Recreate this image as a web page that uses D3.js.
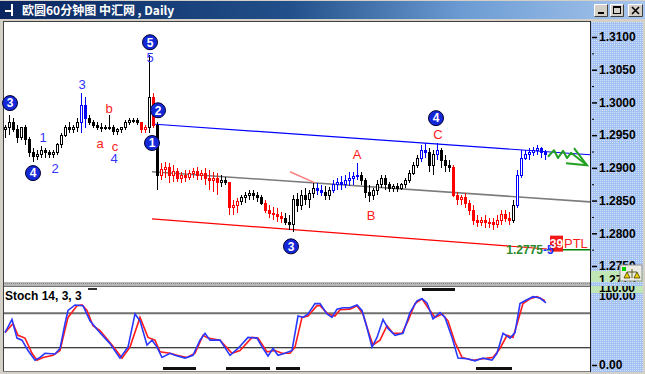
<!DOCTYPE html>
<html><head><meta charset="utf-8">
<script src="https://cdn.jsdelivr.net/npm/d3@7"></script>
<style>
html,body{margin:0;padding:0;background:#d4d0c8;overflow:hidden;}
svg{display:block;font-family:"Liberation Sans",Arial,sans-serif;}
</style></head><body>
<svg id="c" width="645" height="374"></svg>
<script>
// ---------------- DATA ----------------
const titleText = "欧圆60分钟图 中汇网 , Daily";
const stochTitle = "Stoch 14, 3, 3";

// bar index 0..135 (each bar one 60-minute period)
const opens = [
1.2958,1.2961,1.2970,1.2958,1.2946,1.2961,1.2943,1.2924,1.2917,1.2920,
1.2927,1.2923,1.2920,1.2924,1.2935,1.2950,1.2961,1.2958,1.2962,1.2970,
1.2996,1.2976,1.2970,1.2965,1.2962,1.2961,1.2962,1.2961,1.2955,1.2958,
1.2961,1.2970,1.2973,1.2973,1.2969,1.2958,1.2962,1.3008,1.2965,1.2889,
1.2897,1.2900,1.2889,1.2894,1.2884,1.2889,1.2886,1.2892,1.2894,1.2889,
1.2891,1.2884,1.2881,1.2884,1.2878,1.2881,1.2877,1.2839,1.2843,1.2848,
1.2854,1.2857,1.2861,1.2858,1.2854,1.2846,1.2835,1.2831,1.2828,1.2825,
1.2823,1.2817,1.2813,1.2851,1.2843,1.2858,1.2851,1.2861,1.2869,1.2866,
1.2863,1.2858,1.2866,1.2874,1.2877,1.2874,1.2881,1.2884,1.2887,1.2889,
1.2881,1.2863,1.2857,1.2866,1.2874,1.2884,1.2874,1.2869,1.2872,1.2869,
1.2874,1.2881,1.2892,1.2904,1.2915,1.2927,1.2923,1.2904,1.2920,1.2927,
1.2912,1.2904,1.2900,1.2858,1.2851,1.2854,1.2846,1.2835,1.2820,1.2817,
1.2820,1.2816,1.2817,1.2813,1.2820,1.2828,1.2823,1.2820,1.2843,1.2889,
1.2915,1.2920,1.2924,1.2927,1.2930,1.2923];
const highs = [
1.2965,1.2981,1.2976,1.2965,1.2962,1.2965,1.2947,1.2930,1.2927,1.2933,
1.2930,1.2927,1.2927,1.2938,1.2953,1.2965,1.2970,1.2965,1.2976,1.3014,
1.3008,1.2981,1.2973,1.2970,1.2969,1.2965,1.2981,1.2965,1.2961,1.2962,
1.2973,1.2976,1.2976,1.2976,1.2970,1.2965,1.3072,1.3014,1.2970,1.2907,
1.2909,1.2907,1.2904,1.2900,1.2894,1.2897,1.2897,1.2900,1.2901,1.2897,
1.2900,1.2897,1.2894,1.2892,1.2889,1.2886,1.2878,1.2851,1.2854,1.2858,
1.2863,1.2866,1.2866,1.2863,1.2858,1.2851,1.2843,1.2840,1.2839,1.2832,
1.2831,1.2828,1.2858,1.2861,1.2866,1.2869,1.2866,1.2877,1.2877,1.2874,
1.2872,1.2871,1.2881,1.2884,1.2887,1.2889,1.2894,1.2894,1.2907,1.2894,
1.2884,1.2874,1.2869,1.2881,1.2889,1.2889,1.2878,1.2875,1.2877,1.2877,
1.2884,1.2897,1.2909,1.2920,1.2935,1.2938,1.2930,1.2927,1.2938,1.2930,
1.2920,1.2912,1.2904,1.2863,1.2858,1.2861,1.2851,1.2843,1.2828,1.2825,
1.2828,1.2823,1.2823,1.2828,1.2835,1.2835,1.2832,1.2851,1.2897,1.2927,
1.2927,1.2930,1.2932,1.2935,1.2932,1.2927];
const lows = [
1.2946,1.2950,1.2955,1.2938,1.2943,1.2935,1.2917,1.2909,1.2912,1.2915,
1.2915,1.2915,1.2915,1.2920,1.2930,1.2947,1.2953,1.2953,1.2955,1.2953,
1.2961,1.2965,1.2961,1.2958,1.2955,1.2958,1.2958,1.2950,1.2950,1.2953,
1.2958,1.2965,1.2969,1.2965,1.2953,1.2953,1.2953,1.2961,1.2866,1.2881,
1.2884,1.2877,1.2878,1.2878,1.2877,1.2878,1.2881,1.2884,1.2881,1.2881,
1.2874,1.2866,1.2863,1.2858,1.2871,1.2874,1.2828,1.2828,1.2831,1.2843,
1.2846,1.2851,1.2851,1.2848,1.2843,1.2831,1.2823,1.2820,1.2817,1.2816,
1.2813,1.2805,1.2802,1.2832,1.2835,1.2843,1.2839,1.2854,1.2858,1.2857,
1.2851,1.2851,1.2861,1.2866,1.2866,1.2869,1.2872,1.2874,1.2881,1.2874,
1.2854,1.2848,1.2851,1.2858,1.2869,1.2866,1.2863,1.2863,1.2863,1.2866,
1.2869,1.2877,1.2889,1.2900,1.2909,1.2915,1.2894,1.2889,1.2912,1.2900,
1.2894,1.2894,1.2855,1.2843,1.2843,1.2839,1.2828,1.2813,1.2809,1.2811,
1.2808,1.2808,1.2805,1.2808,1.2813,1.2817,1.2813,1.2816,1.2839,1.2884,
1.2912,1.2912,1.2918,1.2920,1.2915,1.2912];
const closes = [
1.2961,1.2970,1.2958,1.2946,1.2961,1.2943,1.2924,1.2917,1.2920,1.2927,
1.2923,1.2920,1.2924,1.2935,1.2950,1.2961,1.2958,1.2962,1.2970,1.2996,
1.2976,1.2970,1.2965,1.2962,1.2961,1.2962,1.2961,1.2955,1.2958,1.2961,
1.2970,1.2973,1.2973,1.2969,1.2958,1.2961,1.3008,1.2965,1.2889,1.2897,
1.2900,1.2889,1.2894,1.2884,1.2889,1.2886,1.2892,1.2894,1.2889,1.2891,
1.2884,1.2881,1.2884,1.2878,1.2881,1.2877,1.2839,1.2843,1.2848,1.2854,
1.2857,1.2861,1.2858,1.2854,1.2846,1.2835,1.2831,1.2828,1.2825,1.2823,
1.2817,1.2813,1.2851,1.2843,1.2858,1.2851,1.2861,1.2869,1.2866,1.2863,
1.2858,1.2866,1.2874,1.2877,1.2874,1.2881,1.2884,1.2887,1.2889,1.2881,
1.2863,1.2857,1.2866,1.2874,1.2884,1.2874,1.2869,1.2872,1.2869,1.2874,
1.2881,1.2892,1.2904,1.2915,1.2927,1.2923,1.2904,1.2920,1.2927,1.2912,
1.2904,1.2900,1.2858,1.2851,1.2854,1.2846,1.2835,1.2820,1.2817,1.2820,
1.2816,1.2817,1.2813,1.2820,1.2828,1.2823,1.2820,1.2843,1.2889,1.2915,
1.2920,1.2924,1.2927,1.2930,1.2923,1.2920];
// trend state of each bar: n = neutral, u = up-wave, d = down-wave
const barState = ("nnnnnnnnnnnnnnnnnnn"+"uu"+"nnnnnnnnnnnnn"+"dd"+"n"+"d"+"n"+
  "ddddddddddddddd"+"nn"+"ddd"+"nnnnnn"+"ddddd"+"nnnnnnnn"+"uu"+"nn"+"uuuuuuu"+
  "nnnnnnnnnnnnnnn"+"uu"+"nn"+"u"+"nnn"+"ddddddddddddddd"+"n"+"uuuuuuuu").split("");

// channel lines: [barIndex, price]
const upperLine = [[36.75,1.2967],[146.25,1.2920]];
const midLine   = [[36.75,1.2894],[146.25,1.2848]];
const lowerLine = [[36.75,1.2822],[135.5,1.2776]];
const targetLine = [[135.5,1.2775],[146.25,1.2775]];
const smallLine = [[71.25,1.2894],[77.5,1.2877]];
const forecastPath = [[135.75,1.2917],[137.25,1.2927],[138.25,1.2915],[139.5,1.2926],[140.5,1.2915],[141.5,1.2923],[145.5,1.2904]];
const forecastHead = [[142.25,1.2930],[145.5,1.2904],[140.25,1.2907]];

// wave labels: [text, barIndex, price]
const waveCircles = [["3",1.25,1.2999],["4",7,1.2892],["5",36.25,1.3092],["2",38.25,1.2988],["1",36.75,1.2938],["3",71.5,1.2780],["4",107.75,1.2976]];
const blueLabels = [["1",9.5,1.2947],["2",12.5,1.2900],["3",19.25,1.3027],["4",27.25,1.2915],["5",36.25,1.3069]];
const redLabels = [["a",23.75,1.2938],["b",26,1.2991],["c",27.5,1.2933],["A",88,1.2920],["B",91.5,1.2828],["C",108.25,1.2952]];
const target = {idx:136.25, price:1.2775, label:"1.2775", diff:"-5", box:"39", tag:"PTL"};

const priceTicks = [1.3100,1.3050,1.3000,1.2950,1.2900,1.2850,1.2800,1.2750];
const priceMinor = [1.3075,1.3025,1.2975,1.2925,1.2875,1.2825,1.2775];
const lastPriceText = "1.2775";

// stochastic %K and %D: [barIndex, value]
const stochK = [[0,47],[1.75,66],[3,39],[4.25,36],[5.75,21],[7.5,7],[8.75,11],[10,17],[12.5,16],[13.75,24],
[15,60],[15.75,79],[17.5,87],[19.5,86],[21.25,64],[23.25,50],[26.25,31],[28.75,10],[30.75,26],[32.5,74],
[33.75,64],[35.5,29],[36.75,36],[38,26],[39.25,11],[41.25,17],[42.5,14],[45,10],[47,14],[48.75,36],
[50,46],[51.25,36],[53.75,36],[56.25,14],[58.25,24],[60.75,40],[63,39],[64.5,24],[65.75,13],[67,24],
[68.25,14],[70,17],[71.75,21],[73.25,71],[74.5,69],[75.75,74],[77.5,89],[78.75,89],[80.5,74],[81.75,69],
[83,81],[84.5,83],[86.25,83],[88,87],[89.25,79],[90.5,54],[91.75,26],[93,40],[94.5,66],[95.75,53],
[97.5,43],[99.5,46],[101.25,76],[103,93],[104.25,96],[105.5,90],[107,67],[108.75,76],[110,69],[111.75,40],
[113.25,10],[115.5,9],[117.5,6],[119.5,10],[121.75,7],[123,17],[124.5,46],[126.25,39],[127.5,47],[128.75,89],
[130,93],[132,99],[133.75,97],[135.25,90]];
const stochD = [[0,47],[2,60],[3.25,43],[5,39],[6.75,17],[8,7],[9.5,11],[12,14],[13.75,21],[15.75,69],
[18,86],[19.25,87],[20.5,79],[22,57],[23.75,50],[26.75,29],[29.25,10],[31.25,26],[33.75,69],[35.75,40],
[37.5,36],[38.75,19],[41.25,17],[43,14],[45.5,11],[47.5,17],[49.5,43],[50.75,39],[53.75,36],[56.75,17],
[58.75,21],[61.75,40],[63.25,39],[65.5,19],[67.5,21],[69.25,17],[71.25,17],[72.5,26],[74.25,69],[75.75,71],
[78,86],[78.75,86],[80.75,74],[82.5,71],[83.75,80],[86.25,81],[88,86],[89.5,74],[90.75,50],[92,29],
[93.75,36],[95.5,57],[97,46],[99.25,46],[100.75,64],[102.5,89],[104.25,96],[105.75,83],[107.5,69],[109.25,74],
[110.75,64],[112.5,33],[114.25,11],[117,7],[119.5,9],[122,11],[123.75,24],[125.5,43],[127,40],[128.25,64],
[129.5,89],[131.25,96],[133,99],[135,93]];
const stochLevels = [75,25];
const overboughtSpans = [[104.25,112.5]];
const oversoldSpans = [[39.5,47.75],[55.25,66.25],[67.75,73.75],[117.75,126.75]];
const stochTicks = [100,0];

// ---------------- DRAW ----------------
const svg = d3.select("#c");
const defs = svg.append("defs");
const tg = defs.append("linearGradient").attr("id","tb").attr("x1","0").attr("x2","1").attr("y1","0").attr("y2","0");
[[0,"#0a2660"],[0.45,"#22508a"],[0.72,"#6c9cd3"],[1,"#a8c6ee"]].forEach(s=>tg.append("stop").attr("offset",s[0]).attr("stop-color",s[1]));
const pat = defs.append("pattern").attr("id","dots").attr("width",2).attr("height",2).attr("patternUnits","userSpaceOnUse");
pat.append("rect").attr("width",2).attr("height",2).attr("fill","#a2c0f0");
pat.append("rect").attr("width",1).attr("height",1).attr("fill","#d4e3fc");
defs.append("clipPath").attr("id","pclip").append("rect").attr("x",4).attr("y",22).attr("width",586).attr("height",260);
defs.append("clipPath").attr("id","aclip").append("rect").attr("x",591).attr("y",22).attr("width",52).attr("height",260);
defs.append("clipPath").attr("id","sclip").append("rect").attr("x",591).attr("y",286).attr("width",52).attr("height",86);

// window background
svg.append("rect").attr("width",645).attr("height",374).attr("fill","#d4d0c8");
// title bar
svg.append("rect").attr("x",0).attr("y",1).attr("width",645).attr("height",18).attr("fill","url(#tb)");
svg.append("path").attr("d","M5,10h6v-6h2v12h-2v-4h-6z").attr("fill","#fff");
svg.append("text").attr("x",22).attr("y",15).attr("fill","#fff")
  .style("font-family","'Noto Sans CJK SC','Liberation Sans',sans-serif").style("font-weight","bold").style("font-size","12px")
  .text(titleText);
// title buttons
[[594,"min"],[610,"max"],[628,"close"]].forEach(([bx,t])=>{
  const w = t==="close"?15:14;
  svg.append("rect").attr("x",bx).attr("y",4).attr("width",w).attr("height",13).attr("fill","#d4d0c8");
  svg.append("path").attr("d",`M${bx+0.5},16.5V4.5H${bx+w-0.5}`).attr("stroke","#fff").attr("fill","none");
  svg.append("path").attr("d",`M${bx+0.5},16.5H${bx+w-0.5}V4.5`).attr("stroke","#404040").attr("fill","none");
  if(t==="min") svg.append("rect").attr("x",bx+4).attr("y",12).attr("width",6).attr("height",2).attr("fill","#000");
  if(t==="max"){ svg.append("rect").attr("x",bx+3.5).attr("y",6.5).attr("width",7).attr("height",7).attr("fill","none").attr("stroke","#000");
    svg.append("rect").attr("x",bx+3).attr("y",6).attr("width",8).attr("height",2).attr("fill","#000"); }
  if(t==="close") svg.append("path").attr("d",`M${bx+4},7L${bx+11},14M${bx+11},7L${bx+4},14`).attr("stroke","#000").attr("stroke-width",1.6);
});

// panels
svg.append("rect").attr("x",4).attr("y",22).attr("width",586).attr("height",260).attr("fill","#fff");
svg.append("rect").attr("x",4).attr("y",287).attr("width",586).attr("height",84).attr("fill","#fff");
svg.append("rect").attr("x",591).attr("y",22).attr("width",52).attr("height",350).attr("fill","url(#dots)");
svg.append("rect").attr("x",3).attr("y",282).attr("width",588).attr("height",4).attr("fill","#b8b8b8");
svg.append("line").attr("x1",3).attr("x2",591).attr("y1",283.5).attr("y2",283.5).attr("stroke","#8c8c8c").attr("stroke-dasharray","1,1");
svg.append("line").attr("x1",3).attr("x2",591).attr("y1",286.5).attr("y2",286.5).attr("stroke","#707070");
svg.append("line").attr("x1",3.5).attr("x2",3.5).attr("y1",21).attr("y2",372).attr("stroke","#404040");
svg.append("line").attr("x1",3).attr("x2",591).attr("y1",21.5).attr("y2",21.5).attr("stroke","#404040");
svg.append("line").attr("x1",3).attr("x2",591).attr("y1",371.5).attr("y2",371.5).attr("stroke","#808080");
svg.append("line").attr("x1",590.5).attr("x2",590.5).attr("y1",21).attr("y2",372).attr("stroke","#202020");

// scales
const x = d3.scaleLinear().domain([0,146.25]).range([5,590]);
const yP = d3.scaleLinear().domain([1.2750,1.3100]).range([266,37]);
const yS = d3.scaleLinear().domain([0,100]).range([365,296]);
const col = {n:"#000000", d:"#ff0000", u:"#0000ff"};

const pg = svg.append("g").attr("clip-path","url(#pclip)");
const lineP = d3.line().x(d=>x(d[0])).y(d=>yP(d[1]));

// channel lines
pg.append("path").attr("d",lineP(midLine)).attr("stroke","#7c7c7c").attr("stroke-width",1.6).attr("fill","none");
pg.append("path").attr("d",lineP(upperLine)).attr("stroke","#0000ff").attr("stroke-width",1.2).attr("fill","none");
pg.append("path").attr("d",lineP(lowerLine)).attr("stroke","#ff0000").attr("stroke-width",1.2).attr("fill","none");
pg.append("path").attr("d",lineP(targetLine)).attr("stroke","#008000").attr("stroke-width",1.5).attr("fill","none");
pg.append("path").attr("d",lineP(smallLine)).attr("stroke","#ff8080").attr("stroke-width",1.5).attr("fill","none");

// candles
const bars = opens.map((o,i)=>({i,o,h:highs[i],l:lows[i],c:closes[i],s:barState[i]||"n"}));
const cg = pg.append("g").attr("shape-rendering","crispEdges");
cg.selectAll("line").data(bars).join("line")
  .attr("x1",d=>Math.round(x(d.i))+0.5).attr("x2",d=>Math.round(x(d.i))+0.5)
  .attr("y1",d=>yP(d.h)).attr("y2",d=>yP(d.l)).attr("stroke",d=>col[d.s]);
cg.selectAll("rect").data(bars).join("rect")
  .attr("x",d=>Math.round(x(d.i))-0.5).attr("width",2)
  .attr("y",d=>yP(Math.max(d.o,d.c))).attr("height",d=>Math.max(1,Math.abs(yP(d.o)-yP(d.c))))
  .attr("fill",d=>d.c>d.o?"#ffffff":col[d.s]).attr("stroke",d=>col[d.s]);

// forecast arrow
pg.append("path").attr("d",lineP(forecastPath)).attr("stroke","#22a022").attr("stroke-width",2).attr("fill","none").attr("stroke-linejoin","round");
pg.append("path").attr("d",lineP(forecastHead)).attr("stroke","#22a022").attr("stroke-width",2).attr("fill","none");

// wave labels
const lg = svg.append("g");
blueLabels.forEach(([t,i,p])=>lg.append("text").attr("x",x(i)).attr("y",yP(p)).attr("dy","0.36em")
  .attr("text-anchor","middle").attr("fill","#3434ff").style("font-size","13px").text(t));
redLabels.forEach(([t,i,p])=>lg.append("text").attr("x",x(i)).attr("y",yP(p)).attr("dy","0.36em")
  .attr("text-anchor","middle").attr("fill","#ff2020").style("font-size","13px").text(t));
waveCircles.forEach(([t,i,p])=>{
  lg.append("ellipse").attr("cx",x(i)).attr("cy",yP(p)).attr("rx",7.5).attr("ry",7.5)
    .attr("fill","#1428d8").attr("stroke","#000030").attr("stroke-width",1);
  lg.append("text").attr("x",x(i)).attr("y",yP(p)).attr("dy","0.36em").attr("text-anchor","middle")
    .attr("fill","#fff").style("font-size","12px").style("font-weight","bold").text(t);
});

// target annotation
const tx = x(target.idx), ty = yP(target.price);
lg.append("text").attr("x",tx-7).attr("y",ty+4).attr("text-anchor","end").attr("fill","#2a8a2a")
  .style("font-size","12px").style("font-weight","bold").text(target.label);
lg.append("rect").attr("x",tx).attr("y",ty-14).attr("width",13).attr("height",16).attr("fill","#f01818");
lg.append("text").attr("x",tx-7).attr("y",ty+4).attr("fill","#2030ff").style("font-size","12px").style("font-weight","bold").text(target.diff);
lg.append("text").attr("x",tx+6.5).attr("y",ty-2).attr("text-anchor","middle").attr("fill","#fff")
  .style("font-size","12px").style("font-weight","bold").text(target.box);
lg.append("text").attr("x",tx+14).attr("y",ty-2).attr("fill","#ff2020").style("font-size","13px").text(target.tag);

// price axis
const ag = svg.append("g").attr("clip-path","url(#aclip)");
const pAxis = ag.append("g").attr("transform","translate(592,0)")
  .call(d3.axisRight(yP).tickValues(priceTicks).tickSize(5).tickPadding(2).tickFormat(d3.format(".4f")));
pAxis.select(".domain").remove();
pAxis.selectAll("text").attr("fill","#000").style("font-size","12px").style("font-weight","bold").style("font-family","'Liberation Sans',Arial,sans-serif");
pAxis.selectAll("line").attr("stroke","#000").attr("stroke-width",1.5);
const mAxis = ag.append("g").attr("transform","translate(592,0)")
  .call(d3.axisRight(yP).tickValues(priceMinor).tickSize(2).tickFormat(""));
mAxis.select(".domain").remove();
mAxis.selectAll("line").attr("stroke","#000");
// last price box and tool icon
ag.append("rect").attr("x",591).attr("y",271).attr("width",52).attr("height",11).attr("fill","#bfe6b4");
ag.append("text").attr("x",599).attr("y",284).attr("fill","#000").style("font-size","12px").style("font-weight","bold").text(lastPriceText);
svg.append("rect").attr("x",620).attr("y",265).attr("width",22).attr("height",16).attr("fill","#ecece4").attr("stroke","#909090");
svg.append("rect").attr("x",622).attr("y",267).attr("width",4).attr("height",4).attr("fill","#00d000");
svg.append("path").attr("d","M624,278l3,-6l3,6zM634,278l3,-6l3,6zM627,272h10M632,269v9").attr("fill","#f0d000").attr("stroke","#404000").attr("stroke-width",0.8);

// stochastic panel
const sg = svg.append("g");
stochLevels.forEach((v,k)=>sg.append("line").attr("x1",4).attr("x2",590).attr("y1",yS(v)).attr("y2",yS(v))
  .attr("stroke",k===0?"#707070":"#000").attr("stroke-width",k===0?2:1.2));
const lineS = d3.line().x(d=>x(d[0])).y(d=>yS(d[1]));
sg.append("path").attr("d",lineS(stochD)).attr("stroke","#ff1c1c").attr("stroke-width",1.6).attr("fill","none");
sg.append("path").attr("d",lineS(stochK)).attr("stroke","#2838ff").attr("stroke-width",1.6).attr("fill","none");
sg.selectAll("rect.ob").data(overboughtSpans).join("rect").attr("x",d=>x(d[0])).attr("width",d=>x(d[1])-x(d[0]))
  .attr("y",288).attr("height",3).attr("fill","#101010");
sg.selectAll("rect.os").data(oversoldSpans).join("rect").attr("x",d=>x(d[0])).attr("width",d=>x(d[1])-x(d[0]))
  .attr("y",367).attr("height",3).attr("fill","#101010");
sg.append("text").attr("x",5).attr("y",300).attr("fill","#000").style("font-size","12px").style("font-weight","bold").text(stochTitle);
sg.append("rect").attr("x",88).attr("y",288).attr("width",9).attr("height",2).attr("fill","#303030");

// stochastic axis
const sa = svg.append("g").attr("clip-path","url(#sclip)");
const sAxis = sa.append("g").attr("transform","translate(592,0)")
  .call(d3.axisRight(yS).tickValues(stochTicks).tickSize(5).tickPadding(2).tickFormat(d3.format(".2f")));
sAxis.select(".domain").remove();
sAxis.selectAll("text").attr("fill","#000").style("font-size","12px").style("font-weight","bold").style("font-family","'Liberation Sans',Arial,sans-serif");
sAxis.selectAll("line").attr("stroke","#000").attr("stroke-width",1.5);
sAxis.selectAll(".tick").filter(d=>d===100).select("line").remove();
sa.append("rect").attr("x",591).attr("y",286).attr("width",52).attr("height",7).attr("fill","#bfe6b4");
sa.append("text").attr("x",599).attr("y",292).attr("fill","#000").style("font-size","12px").style("font-weight","bold").text("110.00");
</script>
</body></html>
